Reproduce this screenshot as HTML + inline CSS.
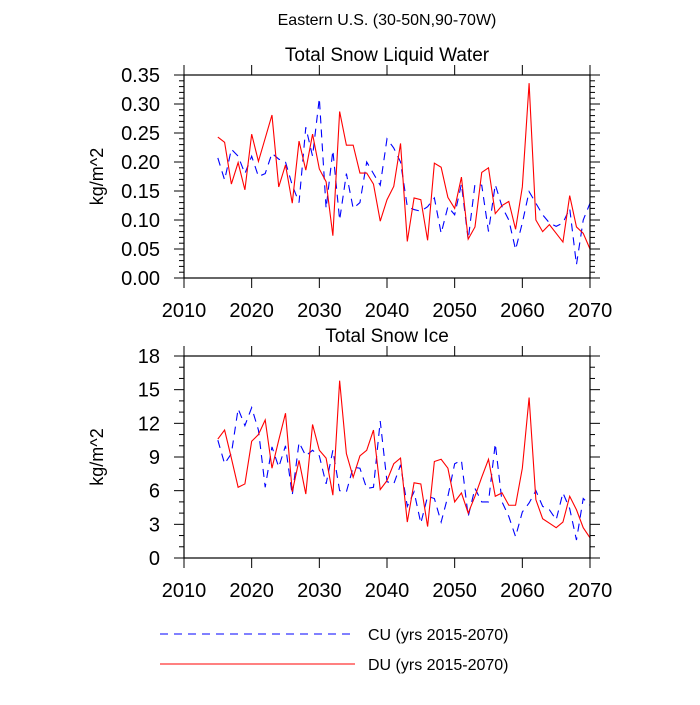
<!DOCTYPE html>
<html><head><meta charset="utf-8"><style>
body{margin:0;background:#fff;font-family:"Liberation Sans",sans-serif;}
svg text{font-family:"Liberation Sans",sans-serif;fill:#000;}
</style></head><body>
<svg id="c" width="700" height="700">
<text x="387" y="25" font-size="16" text-anchor="middle">Eastern U.S. (30-50N,90-70W)</text>
<g id="leg">
<line x1="160" y1="634" x2="355" y2="634" stroke="#00f" stroke-width="1" stroke-dasharray="8,6"/>
<text x="368" y="640" font-size="16">CU (yrs 2015-2070)</text>
<line x1="160" y1="664" x2="355" y2="664" stroke="#f00" stroke-width="1"/>
<text x="368" y="670" font-size="16">DU (yrs 2015-2070)</text>
</g>
</svg>
<script>
const years=[];for(let y=2015;y<=2070;y++)years.push(y);
const xTicks=[2010,2020,2030,2040,2050,2060,2070];
const swDU=[0.243,0.234,0.162,0.199,0.152,0.248,0.201,0.241,0.281,0.157,0.195,0.129,0.236,0.186,0.248,0.188,0.166,0.073,0.287,0.229,0.229,0.181,0.181,0.162,0.098,0.135,0.158,0.232,0.063,0.138,0.135,0.065,0.198,0.191,0.139,0.120,0.174,0.067,0.088,0.182,0.190,0.111,0.125,0.132,0.084,0.157,0.336,0.100,0.080,0.092,0.077,0.062,0.142,0.088,0.077,0.050];
const swCU=[0.207,0.169,0.222,0.21,0.18,0.21,0.175,0.18,0.215,0.205,0.2,0.16,0.13,0.26,0.21,0.31,0.12,0.22,0.10,0.18,0.12,0.13,0.2,0.18,0.16,0.24,0.224,0.2,0.123,0.118,0.115,0.123,0.138,0.077,0.123,0.109,0.162,0.066,0.162,0.16,0.08,0.161,0.123,0.100,0.049,0.095,0.149,0.129,0.109,0.095,0.089,0.095,0.120,0.023,0.100,0.129];
const swTicks=["0.00","0.05","0.10","0.15","0.20","0.25","0.30","0.35"];
const siDU=[10.6,11.4,8.9,6.3,6.6,10.4,11.0,12.3,8.0,10.5,12.9,5.9,8.7,5.7,11.9,9.6,8.9,5.6,15.8,9.3,7.2,9.1,9.6,11.4,6.1,6.9,8.4,8.9,3.2,6.7,6.6,2.8,8.6,8.8,8.0,5.0,5.8,4.0,5.5,7.2,8.8,5.5,5.8,4.7,4.7,8.0,14.3,5.2,3.5,3.1,2.7,3.2,5.5,4.3,2.7,1.8];
const siCU=[10.5,8.4,9.3,13.3,11.8,13.4,11.4,6.3,9.9,8.1,10.0,5.6,10.3,9.1,9.6,9.1,6.6,9.6,6.0,5.9,8.1,8.0,6.2,6.3,12.2,6.8,6.6,8.3,4.6,5.9,3.1,5.5,5.3,3.2,5.5,8.4,8.7,3.7,6.2,5.0,5.0,10.2,5.0,3.7,1.9,4.1,4.9,6.0,4.6,4.3,3.4,5.8,4.4,1.6,5.3,4.7];
const siTicks=["0","3","6","9","12","15","18"];
const NS="http://www.w3.org/2000/svg",svg=document.getElementById('c');
function mk(t,a,p){const e=document.createElementNS(NS,t);for(const k in a)e.setAttribute(k,a[k]);(p||svg).appendChild(e);return e;}
const L=184,R=590;
function panel(name,top,bot,ymax,ticks,minorPer,title,du,cu){
  const g=mk('g',{});
  
  
  const xs=v=>L+(v-2010)/60*(R-L), ys=v=>bot-v/ymax*(bot-top);
  const t=mk('text',{x:387,y:top-14,'font-size':19,'text-anchor':'middle'},g);t.textContent=title;
  
  
  const yt=mk('text',{x:0,y:0,'font-size':18,'text-anchor':'middle',transform:`translate(103,${(top+bot)/2}) rotate(-90)`},g);yt.textContent='kg/m^2';
  
  
  const step=ymax/(ticks.length-1);
  ticks.forEach((lab,i)=>{const v=i*step,y=ys(v);
    mk('line',{x1:L-10,x2:L,y1:y,y2:y,stroke:'#000'},g);mk('line',{x1:R,x2:R+10,y1:y,y2:y,stroke:'#000'},g);
    const tx=mk('text',{x:160,y:y+7,'font-size':20,'text-anchor':'end'},g);tx.textContent=lab;
    
    
    if(i<ticks.length-1)for(let m=1;m<minorPer;m++){const ym=ys(v+m*step/minorPer);
      mk('line',{x1:L-5,x2:L,y1:ym,y2:ym,stroke:'#000'},g);mk('line',{x1:R,x2:R+5,y1:ym,y2:ym,stroke:'#000'},g);}
  });
  xTicks.forEach(v=>{const x=xs(v);
    mk('line',{x1:x,x2:x,y1:top-10,y2:top,stroke:'#000'},g);mk('line',{x1:x,x2:x,y1:bot,y2:bot+10,stroke:'#000'},g);
    const tx=mk('text',{x:x,y:bot+39,'font-size':20,'text-anchor':'middle'},g);tx.textContent=v;
    
    
  });
  const pc=mk('polyline',{points:years.map((y,i)=>xs(y)+','+ys(cu[i])).join(' '),fill:'none',stroke:'#00f','stroke-width':1.1,'stroke-dasharray':'8,6'},g);
  
  
  const pd=mk('polyline',{points:years.map((y,i)=>xs(y)+','+ys(du[i])).join(' '),fill:'none',stroke:'#f00','stroke-width':1.1},g);
  
  
  const fr=mk('rect',{x:L,y:top,width:R-L,height:bot-top,fill:'none',stroke:'#000','stroke-width':1.2},g);
  
  
}
panel('snow-liquid-water-panel',75,278,0.35,swTicks,5,'Total Snow Liquid Water',swDU,swCU);
panel('snow-ice-panel',356,558,18,siTicks,3,'Total Snow Ice',siDU,siCU);
</script>
</body></html>
